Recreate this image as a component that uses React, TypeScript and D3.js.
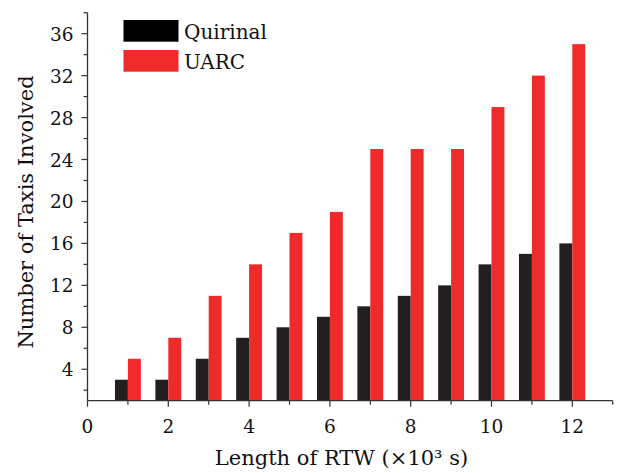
import { useEffect, useRef } from 'react';
import * as d3 from 'd3';

// RTW length (x10^3 s)
const rtw = [1, 2, 3, 4, 5, 6, 7, 8, 9, 10, 11, 12];
const quirinal = [3, 3, 5, 7, 8, 9, 10, 11, 12, 14, 15, 16];
const uarc = [5, 7, 11, 14, 17, 19, 25, 25, 25, 29, 32, 35];

const yMajor = [4, 8, 12, 16, 20, 24, 28, 32, 36];
const yMinor = [2, 6, 10, 14, 18, 22, 26, 30, 34, 38];
const xMajor = [0, 2, 4, 6, 8, 10, 12];
const xMinor = [1, 3, 5, 7, 9, 11, 13];

const App = () => {
  const svgRef = useRef<SVGSVGElement>(null);

  useEffect(() => {
    document.body.style.margin = '0';
    const svg = d3.select(svgRef.current);
    svg.selectAll('*').remove();

    const W = 618;
    const H = 473;
    const margin = { top: 12.7, right: 5.3, bottom: 72.3, left: 87.5 };
    const width = W - margin.left - margin.right;
    const height = H - margin.top - margin.bottom;
    const font = '"DejaVu Serif", "Liberation Serif", serif';
    const axisColor = '#333';

    svg.attr('width', W).attr('height', H);
    const g = svg.append('g').attr('transform', `translate(${margin.left},${margin.top})`);

    const x = d3.scaleLinear().domain([0, 13]).range([0, width]);
    const y = d3.scaleLinear().domain([1, 38]).range([height, 0]);

    const bw = 0.32;

    // bars
    g.selectAll('.q')
      .data(rtw)
      .enter()
      .append('rect')
      .attr('x', d => x(d - bw))
      .attr('y', (d, i) => y(quirinal[i]))
      .attr('width', x(bw) - x(0))
      .attr('height', (d, i) => height - y(quirinal[i]))
      .attr('fill', '#231f20');

    g.selectAll('.u')
      .data(rtw)
      .enter()
      .append('rect')
      .attr('x', d => x(d))
      .attr('y', (d, i) => y(uarc[i]))
      .attr('width', x(bw) - x(0))
      .attr('height', (d, i) => height - y(uarc[i]))
      .attr('fill', '#ee2a2a');

    // y axis
    g.append('line')
      .attr('x1', 0).attr('x2', 0).attr('y1', 0).attr('y2', height)
      .attr('stroke', axisColor).attr('stroke-width', 1.3);
    yMajor.forEach(v => {
      g.append('line')
        .attr('x1', -6).attr('x2', 0).attr('y1', y(v)).attr('y2', y(v))
        .attr('stroke', axisColor).attr('stroke-width', 1.2);
      g.append('text')
        .attr('x', -14)
        .attr('y', y(v))
        .attr('dy', '0.38em')
        .attr('text-anchor', 'end')
        .style('font-family', font)
        .style('font-size', '18.5px')
        .attr('fill', '#111')
        .text(v);
    });
    yMinor.forEach(v => {
      g.append('line')
        .attr('x1', -4).attr('x2', 0).attr('y1', y(v)).attr('y2', y(v))
        .attr('stroke', axisColor).attr('stroke-width', 1.2);
    });

    // x axis
    g.append('line')
      .attr('x1', 0).attr('x2', width).attr('y1', height).attr('y2', height)
      .attr('stroke', axisColor).attr('stroke-width', 1.3);
    xMajor.forEach(v => {
      g.append('line')
        .attr('x1', x(v)).attr('x2', x(v)).attr('y1', height).attr('y2', height + 6)
        .attr('stroke', axisColor).attr('stroke-width', 1.2);
      g.append('text')
        .attr('x', x(v))
        .attr('y', height + 32)
        .attr('text-anchor', 'middle')
        .style('font-family', font)
        .style('font-size', '18.5px')
        .attr('fill', '#111')
        .text(v);
    });
    xMinor.forEach(v => {
      g.append('line')
        .attr('x1', x(v)).attr('x2', x(v)).attr('y1', height).attr('y2', height + 4)
        .attr('stroke', axisColor).attr('stroke-width', 1.2);
    });

    // axis titles
    g.append('text')
      .attr('x', (215 + 468) / 2 - margin.left)
      .attr('y', height + 64)
      .attr('text-anchor', 'middle')
      .style('font-family', font)
      .style('font-size', '21px')
      .attr('fill', '#111')
      .text('Length of RTW (×10³ s)');

    g.append('text')
      .attr('transform', 'rotate(-90)')
      .attr('x', -(212 - margin.top))
      .attr('y', 33 - margin.left)
      .attr('text-anchor', 'middle')
      .style('font-family', font)
      .style('font-size', '21px')
      .attr('fill', '#111')
      .text('Number of Taxis Involved');

    // legend
    const legend = [
      { name: 'Quirinal', color: '#000' },
      { name: 'UARC', color: '#ee2a2a' }
    ];
    legend.forEach((d, i) => {
      const ly = 20 + i * 30 - margin.top;
      g.append('rect')
        .attr('x', 123.5 - margin.left)
        .attr('y', ly)
        .attr('width', 55)
        .attr('height', 21.7)
        .attr('fill', d.color);
      g.append('text')
        .attr('x', 184 - margin.left)
        .attr('y', ly + 19)
        .style('font-family', font)
        .style('font-size', '20px')
        .attr('fill', '#111')
        .text(d.name);
    });
  }, []);

  return (
    <div style={{ position: 'absolute', left: 0, top: 0 }}>
      <svg ref={svgRef} style={{ display: 'block' }}></svg>
    </div>
  );
};

export default App;
